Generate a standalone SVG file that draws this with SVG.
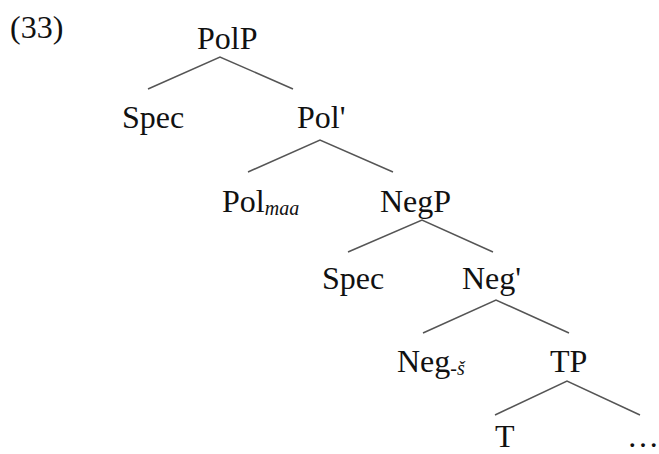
<svg xmlns="http://www.w3.org/2000/svg" width="659" height="454" viewBox="0 0 659 454">
<style>
text{font-family:"Liberation Serif","Times New Roman",serif;font-size:32px;fill:#111}
.sub{font-size:20px;font-style:italic}
.edge{stroke:#555;stroke-width:1.5;fill:none}
</style>
<rect width="659" height="454" fill="#fff"/>
<text id="label33" x="10" y="38">(33)</text>
<g id="connectors">
<polyline class="edge" points="148,89 220,57 293,89"/>
<polyline class="edge" points="248,172 320,140 393,172"/>
<polyline class="edge" points="348,252 422,220 493,252"/>
<polyline class="edge" points="423,333 496,300 569,333"/>
<polyline class="edge" points="495,415 567,381 640,415"/>
</g>
<g id="PolP"><text x="197" y="49">PolP</text></g>
<g id="Spec1"><text x="122" y="128">Spec</text></g>
<g id="PolBar"><text x="297" y="128">Pol'</text></g>
<g id="Pol"><text x="222" y="212">Pol<tspan class="sub" dy="3">maa</tspan></text></g>
<g id="NegP"><text x="380" y="212">NegP</text></g>
<g id="Spec2"><text x="322" y="289">Spec</text></g>
<g id="NegBar"><text x="462" y="289">Neg'</text></g>
<g id="Neg"><text x="397" y="372">Neg<tspan class="sub" dy="3">-š</tspan></text></g>
<g id="TP"><text x="550" y="372">TP</text></g>
<g id="T"><text x="495" y="447">T</text></g>
<g id="Ellipsis"><text x="627" y="447">…</text></g>
</svg>
